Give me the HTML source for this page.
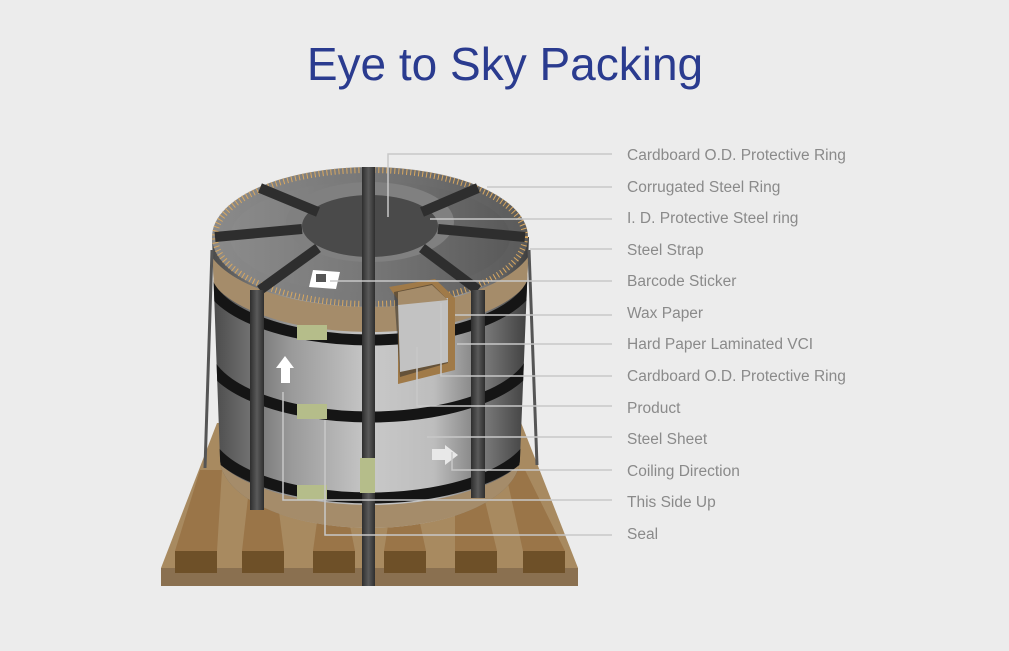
<!DOCTYPE html>
<html><head><style>
body{margin:0;background:#ececec;width:1009px;height:646px;overflow:hidden;font-family:"Liberation Sans",sans-serif}
</style></head><body>
<svg width="1009" height="646" viewBox="0 0 1009 646" xmlns="http://www.w3.org/2000/svg">
<defs>
<linearGradient id="body" x1="0" x2="1" y1="0" y2="0">
<stop offset="0" stop-color="#4a4a4a"/><stop offset="0.25" stop-color="#9a9a9a"/><stop offset="0.5" stop-color="#c8c8c8"/><stop offset="0.7" stop-color="#bdbdbd"/><stop offset="1" stop-color="#3e3e3e"/></linearGradient>
<linearGradient id="top" x1="0" x2="1"><stop offset="0" stop-color="#8a8a8a"/><stop offset="0.5" stop-color="#777"/><stop offset="1" stop-color="#5a5a5a"/></linearGradient>
<linearGradient id="strap" x1="0" x2="1"><stop offset="0" stop-color="#2e2e2e"/><stop offset="0.5" stop-color="#5a5a5a"/><stop offset="1" stop-color="#2e2e2e"/></linearGradient>
<clipPath id="bc"><path d="M212,237 L220,458 A150,70 0 0 0 520,458 L529,237 Z"/></clipPath>
</defs>
<text x="505" y="80" text-anchor="middle" font-size="46" fill="#2a3b8f" font-family="Liberation Sans, sans-serif">Eye to Sky Packing</text>
<!-- pallet -->
<polygon points="217,423 520,420 578,568 161,568" fill="#a88a60"/>
<rect x="161" y="568" width="417" height="18" fill="#8a7050"/>
<g fill="#6e5028">
<rect x="175" y="551" width="42" height="22"/><rect x="242" y="551" width="42" height="22"/><rect x="313" y="551" width="42" height="22"/><rect x="384" y="551" width="42" height="22"/><rect x="455" y="551" width="42" height="22"/><rect x="523" y="551" width="42" height="22"/></g>
<g fill="#9a7548">
<polygon points="200,470 222,470 217,551 175,551"/><polygon points="250,480 275,480 284,551 242,551"/><polygon points="320,500 345,500 355,551 313,551"/><polygon points="392,500 415,500 426,551 384,551"/><polygon points="455,480 480,480 497,551 455,551"/><polygon points="505,470 525,470 565,551 523,551"/></g>
<!-- coil body -->
<path d="M212,237 L220,458 A150,70 0 0 0 520,458 L529,237 Z" fill="url(#body)"/>
<g clip-path="url(#bc)">
<path d="M205,237 A165,70 0 0 0 535,237 L535,262 A165,70 0 0 1 205,262 Z" fill="#a58c6a"/>
<path d="M205,435 A165,70 0 0 0 535,435 L535,470 A165,70 0 0 1 205,470 Z" fill="#a58c6a"/>
<path d="M205,270 A165,70 0 0 0 535,270" fill="none" stroke="#151515" stroke-width="11"/>
<path d="M205,347 A165,70 0 0 0 535,347" fill="none" stroke="#151515" stroke-width="11"/>
<path d="M205,428 A165,70 0 0 0 535,428" fill="none" stroke="#151515" stroke-width="11"/>
</g>
<!-- top -->
<ellipse cx="370" cy="237" rx="158" ry="70" fill="url(#top)"/>
<ellipse cx="370" cy="237" rx="155" ry="67" fill="none" stroke="#d9a860" stroke-width="6" stroke-dasharray="1 3"/>
<ellipse cx="370" cy="237" rx="140" ry="56" fill="url(#top)"/>
<ellipse cx="370" cy="222" rx="84" ry="40" fill="#808080"/>
<ellipse cx="370" cy="226" rx="68" ry="31" fill="#4a4a4a"/>
<g stroke="#2e2e2e" stroke-width="10">
<line x1="260" y1="188" x2="318" y2="212"/><line x1="215" y1="237" x2="302" y2="229"/><line x1="260" y1="290" x2="318" y2="248"/>
<line x1="478" y1="188" x2="422" y2="212"/><line x1="525" y1="237" x2="438" y2="229"/><line x1="478" y1="290" x2="422" y2="248"/>
<line x1="368" y1="167" x2="368" y2="195"/></g>
<!-- straps -->
<rect x="362" y="167" width="13" height="419" fill="url(#strap)"/>
<rect x="250" y="290" width="14" height="220" fill="url(#strap)"/>
<rect x="471" y="290" width="14" height="208" fill="url(#strap)"/>
<line x1="212" y1="250" x2="205" y2="468" stroke="#555" stroke-width="3"/>
<line x1="529" y1="250" x2="537" y2="465" stroke="#555" stroke-width="3"/>
<!-- barcode -->
<polygon points="313,270 340,272 336,289 309,287" fill="#fff"/>
<rect x="316" y="274" width="10" height="8" fill="#555"/>
<!-- cutout -->
<polygon points="389,287 435,279 455,298 455,370 398,384 398,300" fill="#a07a48"/>
<polygon points="394,292 432,284 448,300 448,363 400,377" fill="#2a2a2a" opacity="0.5"/>
<polygon points="398,303 448,298 448,362 400,372" fill="#c2c2c2"/>
<polygon points="398,292 432,285 448,300 398,305" fill="#a58c6a"/>
<!-- seals -->
<g fill="#b5bd8a"><rect x="297" y="325" width="30" height="15"/><rect x="297" y="404" width="30" height="15"/><rect x="297" y="485" width="30" height="15"/><rect x="360" y="458" width="15" height="35"/></g>
<!-- arrows -->
<polygon points="285,356 294,368 290,368 290,383 281,383 281,368 276,368" fill="#fff"/>
<polygon points="432,449 445,449 445,445 458,455 445,465 445,460 432,460" fill="#e8e8e8"/>
<!-- leaders -->
<g stroke="#c8c8c8" stroke-width="1.5" fill="none">
<polyline points="388,217 388,154 612,154"/>
<line x1="487" y1="187" x2="612" y2="187"/>
<line x1="430" y1="219" x2="612" y2="219"/>
<line x1="530" y1="249" x2="612" y2="249"/>
<line x1="330" y1="281" x2="612" y2="281"/>
<line x1="455" y1="315" x2="612" y2="315"/>
<line x1="457" y1="344" x2="612" y2="344"/>
<polyline points="441,303 441,376 612,376"/>
<polyline points="417,347 417,406 612,406"/>
<line x1="427" y1="437" x2="612" y2="437"/>
<polyline points="452,452 452,470 612,470"/>
<polyline points="283,392 283,500 612,500"/>
<polyline points="325,420 325,535 612,535"/>
</g>
<g font-size="15.5" fill="#8a8a8a" font-family="Liberation Sans, sans-serif">
<text x="627" y="160">Cardboard O.D. Protective Ring</text>
<text x="627" y="192">Corrugated Steel Ring</text>
<text x="627" y="223">I. D. Protective Steel ring</text>
<text x="627" y="255">Steel Strap</text>
<text x="627" y="286">Barcode Sticker</text>
<text x="627" y="318">Wax Paper</text>
<text x="627" y="349">Hard Paper Laminated VCI</text>
<text x="627" y="381">Cardboard O.D. Protective Ring</text>
<text x="627" y="413">Product</text>
<text x="627" y="444">Steel Sheet</text>
<text x="627" y="476">Coiling Direction</text>
<text x="627" y="507">This Side Up</text>
<text x="627" y="539">Seal</text>
</g>
</svg>
</body></html>
